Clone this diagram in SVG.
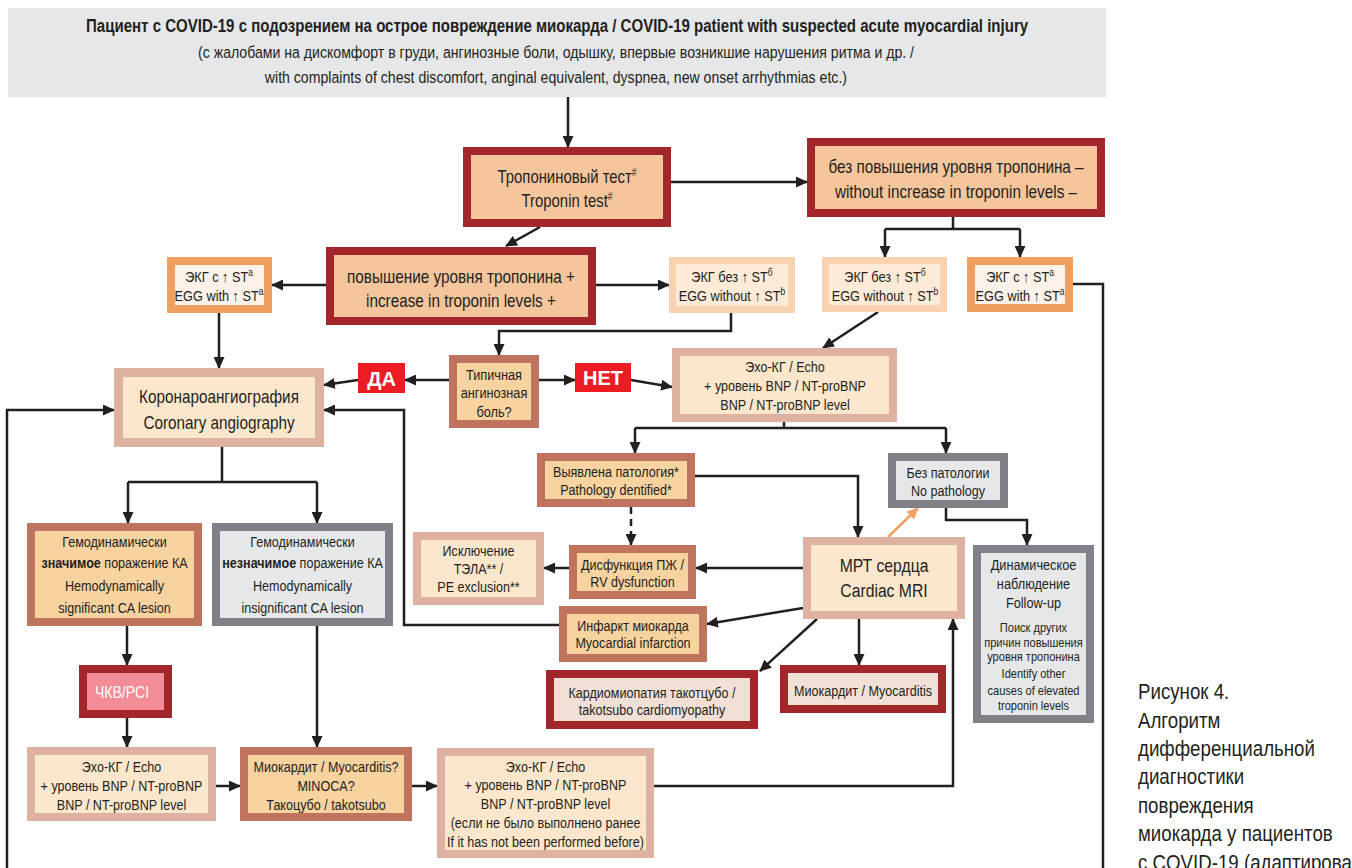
<svg xmlns="http://www.w3.org/2000/svg" width="1352" height="868" viewBox="0 0 1352 868">
<defs>
<marker id="ah" markerUnits="userSpaceOnUse" viewBox="0 0 12 11" markerWidth="12" markerHeight="11" refX="11" refY="5.5" orient="auto"><path d="M0,0 L12,5.5 L0,11 z" fill="#231f20"/></marker>
<marker id="aho" markerUnits="userSpaceOnUse" viewBox="0 0 12 11" markerWidth="12" markerHeight="11" refX="11" refY="5.5" orient="auto"><path d="M0,0 L12,5.5 L0,11 z" fill="#f0a060"/></marker>
<style>
.t{font-family:"Liberation Sans",Arial,sans-serif;fill:#231f20;text-anchor:middle;transform-box:fill-box;transform-origin:50% 50%;transform:scaleX(.85)}
.ns{transform:none}
.f13{font-size:13px}.f15{font-size:15px}.f148{font-size:14.8px}.f18{font-size:18px}
.b{font-weight:bold}
.w{fill:#ffffff}
.sup{font-size:10px}
.dr{fill:#f5c59b;stroke:#a3272a;stroke-width:8}
.dl{fill:#f2e0d6;stroke:#a3272a;stroke-width:8}
.or{fill:#fdf2e9;stroke:#ef9f5f;stroke-width:8}
.lp{fill:#fdebd8;stroke:#f9d3b1;stroke-width:7}
.tn{fill:#fce7cc;stroke:#dfb1a0;stroke-width:8}
.br{fill:#f8d29f;stroke:#c0735f;stroke-width:8}
.gr{fill:#e6e7e9;stroke:#818089;stroke-width:8}
.pk{fill:#f28c96;stroke:#a3272a;stroke-width:8}
.rd{fill:#ed1c24}
.c{fill:none;stroke:#231f20;stroke-width:2.5}
.a{marker-end:url(#ah)}
.cap{font-family:"Liberation Sans",Arial,sans-serif;fill:#231f20;font-size:22px;transform-box:fill-box;transform-origin:0% 50%;transform:scaleX(.85)}
</style>
</defs>

<g id="header">
<rect x="8" y="8" width="1098" height="89" fill="#e6e7e8"/>
<text class="t b" x="557" y="32" style="font-size:17.7px">Пациент с COVID-19 с подозрением на острое повреждение миокарда / COVID-19 patient with suspected acute myocardial injury</text>
<text class="t" x="556" y="58" style="font-size:16.6px">(с жалобами на дискомфорт в груди, ангинозные боли, одышку, впервые возникшие нарушения ритма и др. /</text>
<text class="t" x="556" y="83" style="font-size:16.6px">with complaints of chest discomfort, anginal equivalent, dyspnea, new onset  arrhythmias etc.)</text>
</g>

<g id="connectors">
<path class="c a" d="M568,97 V147"/>
<path class="c a" d="M671,182 H807"/>
<path class="c a" d="M540,227 L506,246"/>
<path class="c" d="M953,217 V229 M885,229 H1020"/>
<path class="c a" d="M885,229 V257"/>
<path class="c a" d="M1020,229 V257"/>
<path class="c a" d="M326,285 H272"/>
<path class="c a" d="M596,285 H669"/>
<path class="c a" d="M219,313 V368"/>
<path class="c a" d="M731,313 V331 H499 V355"/>
<path class="c a" d="M878,312 L823,348"/>
<path class="c a" d="M449,380 H405"/>
<path class="c a" d="M358,380 L324,385"/>
<path class="c a" d="M539,380 H575"/>
<path class="c a" d="M631,380 L672,387"/>
<path class="c" d="M784,422 V428 M635,428 H946"/>
<path class="c a" d="M635,428 V453"/>
<path class="c a" d="M946,428 V453"/>
<path class="c a" d="M695,476 H858 V537"/>
<path class="c a" d="M631,507 V545" stroke-dasharray="7 5"/>
<path d="M888,537 L918,508" fill="none" stroke="#f0a060" stroke-width="2.5" marker-end="url(#aho)"/>
<path class="c a" d="M946,508 V520 H1027 V545"/>
<path class="c a" d="M803,568 H696"/>
<path class="c a" d="M569,568 H544"/>
<path class="c a" d="M803,608 L707,624"/>
<path class="c a" d="M559,625 H404 V410 H324"/>
<path class="c a" d="M859,619 V665"/>
<path class="c a" d="M817,619 L760,671"/>
<path class="c" d="M222,447 V482 M128,482 H317"/>
<path class="c a" d="M128,482 V523"/>
<path class="c a" d="M317,482 V523"/>
<path class="c a" d="M127,626 V665"/>
<path class="c a" d="M127,718 V747"/>
<path class="c a" d="M317,626 V747"/>
<path class="c a" d="M216,786 H240"/>
<path class="c a" d="M412,786 H437"/>
<path class="c a" d="M654,786 H953 V619"/>
<path class="c a" d="M7,868 V410 H114"/>
<path class="c" d="M1073,284 H1103 V868"/>
</g>

<g id="troponin-test">
<rect class="dr" x="467" y="151" width="200" height="72"/>
<text class="t" x="567" y="183" style="font-size:17.5px">Тропониновый тест<tspan class="sup" dy="-7">#</tspan></text>
<text class="t" x="567" y="207" style="font-size:17.5px">Troponin test<tspan class="sup" dy="-7">#</tspan></text>
</g>

<g id="no-increase">
<rect class="dr" x="811" y="142" width="290" height="71"/>
<text class="t f18" x="956" y="173">без повышения уровня тропонина –</text>
<text class="t f18" x="956" y="198">without increase in troponin levels –</text>
</g>

<g id="increase">
<rect class="dr" x="330" y="251" width="262" height="70"/>
<text class="t f18" x="461" y="283">повышение уровня тропонина +</text>
<text class="t f18" x="461" y="307">increase in troponin levels +</text>
</g>

<g id="ecg-st-left">
<rect class="or" x="171" y="261" width="97" height="48"/>
<text class="t f15" x="219" y="282">ЭКГ с ↑ ST<tspan class="sup" dy="-6">а</tspan></text>
<text class="t f15" x="219" y="301">EGG with ↑ ST<tspan class="sup" dy="-6">a</tspan></text>
</g>

<g id="ecg-nost-mid">
<rect class="lp" x="672.5" y="260.5" width="119" height="49"/>
<text class="t f15" x="732" y="282">ЭКГ без ↑ ST<tspan class="sup" dy="-6">б</tspan></text>
<text class="t f15" x="732" y="301">EGG without ↑ ST<tspan class="sup" dy="-6">b</tspan></text>
</g>

<g id="ecg-nost-right">
<rect class="lp" x="825.5" y="260.5" width="118" height="48"/>
<text class="t f15" x="885" y="282">ЭКГ без ↑ ST<tspan class="sup" dy="-6">б</tspan></text>
<text class="t f15" x="885" y="301">EGG without ↑ ST<tspan class="sup" dy="-6">b</tspan></text>
</g>

<g id="ecg-st-right">
<rect class="or" x="971" y="261" width="98" height="47"/>
<text class="t f15" x="1020" y="282">ЭКГ с ↑ ST<tspan class="sup" dy="-6">а</tspan></text>
<text class="t f15" x="1020" y="301">EGG with ↑ ST<tspan class="sup" dy="-6">a</tspan></text>
</g>

<g id="coronary-angiography">
<rect class="tn" x="118.5" y="372.5" width="201" height="70" style="stroke-width:9"/>
<text class="t f18" x="219" y="403">Коронароангиография</text>
<text class="t f18" x="219" y="429">Coronary angiography</text>
</g>

<g id="yes">
<rect class="rd" x="358" y="363" width="47" height="30"/>
<text class="t ns b w" x="381.5" y="385.5" style="font-size:20px">ДА</text>
</g>

<g id="typical-pain">
<rect class="br" x="453" y="359" width="82" height="65"/>
<text class="t f15" x="494" y="380">Типичная</text>
<text class="t f15" x="494" y="398">ангинозная</text>
<text class="t f15" x="494" y="417">боль?</text>
</g>

<g id="no">
<rect class="rd" x="575" y="363" width="56" height="29"/>
<text class="t ns b w" x="603" y="385" style="font-size:20px">НЕТ</text>
</g>

<g id="echo-top">
<rect class="tn" x="676" y="352" width="217" height="66"/>
<text class="t f148" x="785" y="372">Эхо-КГ / Echo</text>
<text class="t f148" x="785" y="391">+ уровень BNP / NT-proBNP</text>
<text class="t f148" x="785" y="410">BNP / NT-proBNP level</text>
</g>

<g id="pathology">
<rect class="br" x="541" y="457" width="150" height="46"/>
<text class="t f148" x="616" y="477">Выявлена патология*</text>
<text class="t f148" x="616" y="495">Pathology dentified*</text>
</g>

<g id="no-pathology">
<rect class="gr" x="892" y="457" width="112" height="47"/>
<text class="t f148" x="948" y="478">Без патологии</text>
<text class="t f148" x="948" y="496">No pathology</text>
</g>

<g id="cardiac-mri">
<rect class="tn" x="807" y="541" width="154" height="74"/>
<text class="t" x="884" y="572" style="font-size:18.5px">МРТ сердца</text>
<text class="t" x="884" y="597" style="font-size:18.5px">Cardiac MRI</text>
</g>

<g id="rv-dysfunction">
<rect class="br" x="573" y="549" width="119" height="46"/>
<text class="t f148" x="632.5" y="570">Дисфункция ПЖ /</text>
<text class="t f148" x="632.5" y="587">RV dysfunction</text>
</g>

<g id="pe-exclusion">
<rect class="tn" x="417" y="536" width="123" height="65"/>
<text class="t f148" x="478.5" y="556">Исключение</text>
<text class="t f148" x="478.5" y="574">ТЭЛА** /</text>
<text class="t f148" x="478.5" y="592">PE exclusion**</text>
</g>

<g id="myocardial-infarction">
<rect class="br" x="563" y="610" width="140" height="48"/>
<text class="t f148" x="633" y="631">Инфаркт миокарда</text>
<text class="t f148" x="633" y="648">Myocardial infarction</text>
</g>

<g id="takotsubo-cardiomyopathy">
<rect class="dl" x="550" y="674" width="204" height="51"/>
<text class="t f148" x="652" y="698">Кардиомиопатия такотцубо /</text>
<text class="t f148" x="652" y="715">takotsubo cardiomyopathy</text>
</g>

<g id="myocarditis">
<rect class="dl" x="784" y="669" width="158" height="40"/>
<text class="t f148" x="863" y="696">Миокардит / Myocarditis</text>
</g>

<g id="follow-up">
<rect class="gr" x="977" y="549" width="113" height="170"/>
<text class="t f15" x="1033.5" y="570">Динамическое</text>
<text class="t f15" x="1033.5" y="589">наблюдение</text>
<text class="t f15" x="1033.5" y="608">Follow-up</text>
<text class="t f13" x="1033.5" y="632">Поиск других</text>
<text class="t f13" x="1033.5" y="647">причин повышения</text>
<text class="t f13" x="1033.5" y="661">уровня тропонина</text>
<text class="t f13" x="1033.5" y="678">Identify other</text>
<text class="t f13" x="1033.5" y="695">causes of elevated</text>
<text class="t f13" x="1033.5" y="710">troponin levels</text>
</g>

<g id="hemo-significant">
<rect class="br" x="31" y="527" width="167" height="95"/>
<text class="t f148" x="114.5" y="547">Гемодинамически</text>
<text class="t f148" x="114.5" y="568"><tspan class="b">значимое</tspan> поражение КА</text>
<text class="t f148" x="114.5" y="591">Hemodynamically</text>
<text class="t f148" x="114.5" y="613">significant CA lesion</text>
</g>

<g id="hemo-insignificant">
<rect class="gr" x="216" y="527" width="173" height="95"/>
<text class="t f148" x="302.5" y="547">Гемодинамически</text>
<text class="t f148" x="302.5" y="568"><tspan class="b">незначимое</tspan> поражение КА</text>
<text class="t f148" x="302.5" y="591">Hemodynamically</text>
<text class="t f148" x="302.5" y="613">insignificant CA lesion</text>
</g>

<g id="pci">
<rect class="pk" x="83" y="669" width="85" height="45"/>
<text class="t w" x="122" y="698" style="font-size:16.5px">ЧКВ/PCI</text>
</g>

<g id="echo-left">
<rect class="tn" x="31" y="751" width="181" height="66"/>
<text class="t f148" x="121.5" y="772">Эхо-КГ / Echo</text>
<text class="t f148" x="121.5" y="791">+ уровень BNP / NT-proBNP</text>
<text class="t f148" x="121.5" y="810">BNP / NT-proBNP level</text>
</g>

<g id="myocarditis-question">
<rect class="br" x="244" y="751" width="164" height="66"/>
<text class="t f148" x="326" y="772">Миокардит / Myocarditis?</text>
<text class="t f148" x="326" y="791">MINOCA?</text>
<text class="t f148" x="326" y="810">Такоцубо / takotsubo</text>
</g>

<g id="echo-right">
<rect class="tn" x="441" y="752" width="209" height="102"/>
<text class="t f148" x="545.5" y="772">Эхо-КГ / Echo</text>
<text class="t f148" x="545.5" y="790">+ уровень BNP / NT-proBNP</text>
<text class="t f148" x="545.5" y="809">BNP / NT-proBNP level</text>
<text class="t f148" x="545.5" y="828">(если не было выполнено ранее</text>
<text class="t f148" x="545.5" y="847">If it has not been performed before)</text>
</g>

<g id="caption">
<text class="cap" x="1138" y="699">Рисунок 4.</text>
<text class="cap" x="1138" y="728">Алгоритм</text>
<text class="cap" x="1138" y="756">дифференциальной</text>
<text class="cap" x="1138" y="784">диагностики</text>
<text class="cap" x="1138" y="813">повреждения</text>
<text class="cap" x="1138" y="841">миокарда у пациентов</text>
<text class="cap" x="1138" y="870">с COVID-19 (адаптировано</text>
</g>
</svg>
